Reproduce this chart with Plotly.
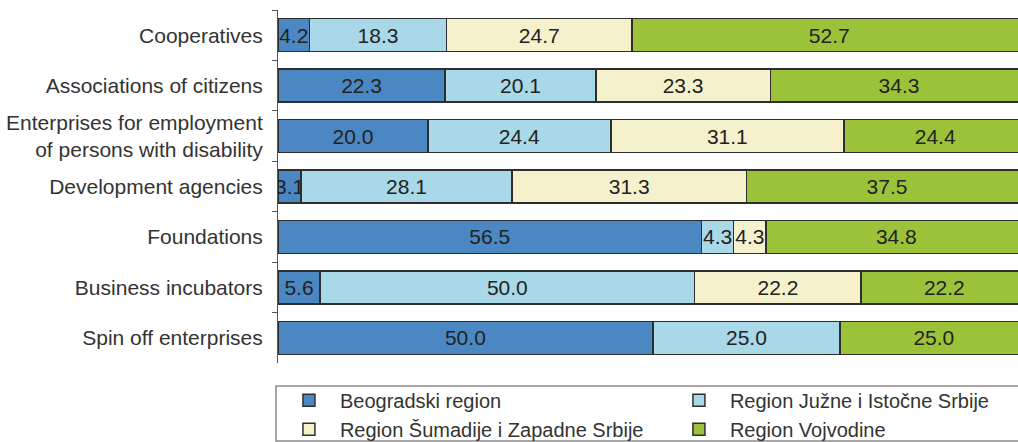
import plotly.graph_objects as go

categories = [
    "Cooperatives",
    "Associations of citizens",
    "Enterprises for employment<br>of persons with disability",
    "Development agencies",
    "Foundations",
    "Business incubators",
    "Spin off enterprises",
]

series_names = [
    "Beogradski region",
    "Region Južne i Istočne Srbije",
    "Region Šumadije i Zapadne Srbije",
    "Region Vojvodine",
]

beogradski = [4.2, 22.3, 20.0, 3.1, 56.5, 5.6, 50.0]
juzne_istocne = [18.3, 20.1, 24.4, 28.1, 4.3, 50.0, 25.0]
sumadije_zapadne = [24.7, 23.3, 31.1, 31.3, 4.3, 22.2, 0.0]
vojvodine = [52.7, 34.3, 24.4, 37.5, 34.8, 22.2, 25.0]

series_values = [beogradski, juzne_istocne, sumadije_zapadne, vojvodine]
colors = ["#4b87c2", "#a9d8e9", "#f6f1cd", "#9cc23a"]
legend_widths = [323, 264, 323, 264]

FONT = "Liberation Sans, Arial, sans-serif"

fig = go.Figure()
for name, vals, col, lw in zip(series_names, series_values, colors, legend_widths):
    fig.add_trace(go.Bar(
        y=categories,
        x=vals,
        name=name,
        orientation="h",
        marker=dict(color=col, line=dict(color="#2e2e2e", width=1.5)),
        text=[f"{v:.1f}" if v > 0 else "" for v in vals],
        textposition="inside",
        insidetextanchor="middle",
        textangle=0,
        constraintext="none",
        textfont=dict(family=FONT, size=21, color="#222222"),
        legendwidth=lw,
    ))

fig.update_layout(
    barmode="stack",
    bargap=0.345,
    width=1018,
    height=442,
    margin=dict(l=278, r=0, t=10, b=79, autoexpand=False),
    paper_bgcolor="white",
    plot_bgcolor="white",
    font=dict(family=FONT, size=20, color="#333333"),
    showlegend=True,
    legend=dict(
        orientation="h",
        x=-0.0001,
        xanchor="left",
        y=-0.0503,
        yanchor="top",
        itemwidth=52,
        entrywidthmode="pixels",
        font=dict(family=FONT, size=20, color="#333333"),
        borderwidth=0,
        bgcolor="rgba(0,0,0,0)",
        traceorder="normal",
    ),
    shapes=[dict(
        type="rect", xref="paper", yref="paper",
        x0=-0.0027, x1=1.05, y0=-0.0652, y1=-0.221,
        line=dict(color="#8a8a8a", width=1.5),
        fillcolor="rgba(0,0,0,0)",
        layer="below",
    )],
)

fig.update_xaxes(range=[0, 98.73], visible=False, showgrid=False, zeroline=False)
fig.update_yaxes(
    autorange="reversed",
    showline=True,
    linecolor="#555555",
    linewidth=1,
    ticks="outside",
    tickson="boundaries",
    ticklen=5,
    tickcolor="#555555",
    ticklabelstandoff=10,
    showgrid=False,
    tickfont=dict(family=FONT, size=21, color="#333333"),
)

fig.write_html(
    "out.html",
    config={"displayModeBar": False},
    post_script="document.body.style.margin='0';document.body.style.overflow='hidden';",
)
